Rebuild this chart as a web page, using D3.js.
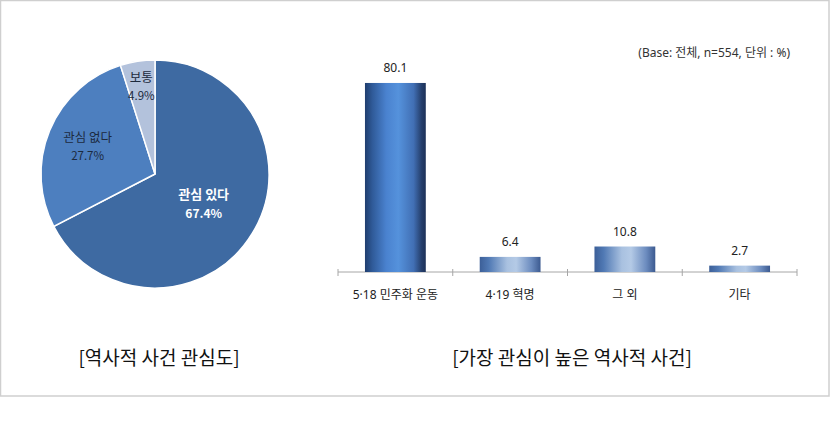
<!DOCTYPE html>
<html><head><meta charset="utf-8">
<script src="https://cdn.jsdelivr.net/npm/d3@7"></script>
<style>
html,body{margin:0;padding:0;background:#fff;}
svg{display:block;font-family:"Noto Sans","Noto Sans CJK KR",sans-serif;}
</style></head>
<body><svg id="c" width="830" height="444"></svg>
<script>
const pieLabels = ["관심 있다", "관심 없다", "보통"];
const pieValues = [67.4, 27.7, 4.9];
const pieColors = ["#3e6aa2", "#4d7fbf", "#b3c2dc"];
const barCategories = ["5·18 민주화 운동", "4·19 혁명", "그 외", "기타"];
const barValues = [80.1, 6.4, 10.8, 2.7];
const pieCaption = "[역사적 사건 관심도]";
const barCaption = "[가장 관심이 높은 역사적 사건]";
const baseNote = "(Base: 전체,  n=554, 단위 : %)";

const svg = d3.select("#c");
// frame
svg.append("rect").attr("x",0.5).attr("y",0.5).attr("width",828.5).attr("height",395.5)
  .attr("fill","none").attr("stroke","#cfcfcf").attr("stroke-width",1.5);

// gradients
const defs = svg.append("defs");
function grad(id, stops){
  const g = defs.append("linearGradient").attr("id",id).attr("x1","0").attr("x2","1").attr("y1","0").attr("y2","0");
  stops.forEach(s=>g.append("stop").attr("offset",s[0]).attr("stop-color",s[1]));
}
grad("gTall", [[0,"#1f3d6e"],[0.12,"#2f5a98"],[0.35,"#4a82cf"],[0.55,"#5592dc"],[0.8,"#416fb4"],[0.93,"#253f6c"],[1,"#1c3159"]]);
grad("gShort", [[0,"#3c5f98"],[0.15,"#5079b4"],[0.45,"#a9c1e0"],[0.6,"#b4cae6"],[0.85,"#6c8cbf"],[1,"#3c5a90"]]);

// pie
const cx = 155, cy = 174, R = 114;
const pie = d3.pie().sort(null).value(d=>d)(pieValues);
const arc = d3.arc().innerRadius(0).outerRadius(R);
const pg = svg.append("g").attr("transform",`translate(${cx},${cy})`)
  .style("font-family",'"Noto Sans CJK KR","Noto Sans",sans-serif');
pg.selectAll("path").data(pie).join("path").attr("d",arc)
  .attr("fill",(d,i)=>pieColors[i]).attr("stroke","#fff").attr("stroke-width",1.5);
const labelR = [0.5, 0.64, 0.78];
pie.forEach((d,i)=>{
  const a = (d.startAngle+d.endAngle)/2;
  const x = Math.sin(a)*R*labelR[i], y = -Math.cos(a)*R*labelR[i];
  const t = pg.append("text").attr("text-anchor","middle")
    .attr("fill", i===0?"#ffffff":"#1c2a3e")
    .attr("font-weight", i===0?"bold":"normal");
  t.append("tspan").attr("x",x).attr("y",y-4.5).attr("font-size",i===0?13:12.5).text(pieLabels[i]);
  t.append("tspan").attr("x",x).attr("y",y+14).attr("font-size",i===0?12:11.5).text(pieValues[i].toFixed(1)+"%");
});

// bars
const x = d3.scaleBand().domain(barCategories).range([338,797]).paddingInner(0.47).paddingOuter(0.235);
const xb = d3.scaleBand().domain(barCategories).range([338,797]);
const y = d3.scaleLinear().domain([0,100]).range([272,36]);
const bg = svg.append("g");
bg.append("line").attr("x1",338).attr("x2",797).attr("y1",272).attr("y2",272).attr("stroke","#a6a6a6");
const ticks = barCategories.map(c=>xb(c)).concat([797]);
bg.selectAll("line.t").data(ticks).join("line").attr("class","t")
  .attr("x1",d=>d).attr("x2",d=>d).attr("y1",269).attr("y2",276).attr("stroke","#a6a6a6");
bg.selectAll("rect.b").data(barValues).join("rect").attr("class","b")
  .attr("x",(d,i)=>x(barCategories[i])).attr("width",x.bandwidth())
  .attr("y",d=>y(d)).attr("height",d=>272-y(d))
  .attr("fill",d=>d>50?"url(#gTall)":"url(#gShort)");
bg.selectAll("text.v").data(barValues).join("text").attr("class","v")
  .attr("x",(d,i)=>x(barCategories[i])+x.bandwidth()/2).attr("y",d=>y(d)-11)
  .attr("text-anchor","middle").attr("font-size",12).attr("fill","#222").text(d=>d.toFixed(1));
bg.selectAll("text.c").data(barCategories).join("text").attr("class","c")
  .attr("x",d=>xb(d)+xb.bandwidth()/2).attr("y",299)
  .attr("text-anchor","middle").attr("font-size",12).attr("fill","#222").text(d=>d);
svg.append("text").attr("x",790).attr("y",57).attr("text-anchor","end").attr("font-size",12)
  .attr("fill","#333").text(baseNote);

// captions
svg.append("text").attr("x",159).attr("y",365).attr("text-anchor","middle").attr("font-size",19)
  .attr("fill","#111").style("font-family",'"Noto Sans CJK KR",sans-serif').text(pieCaption);
svg.append("text").attr("x",572).attr("y",365).attr("text-anchor","middle").attr("font-size",19)
  .attr("fill","#111").style("font-family",'"Noto Sans CJK KR",sans-serif').text(barCaption);
</script></body></html>
